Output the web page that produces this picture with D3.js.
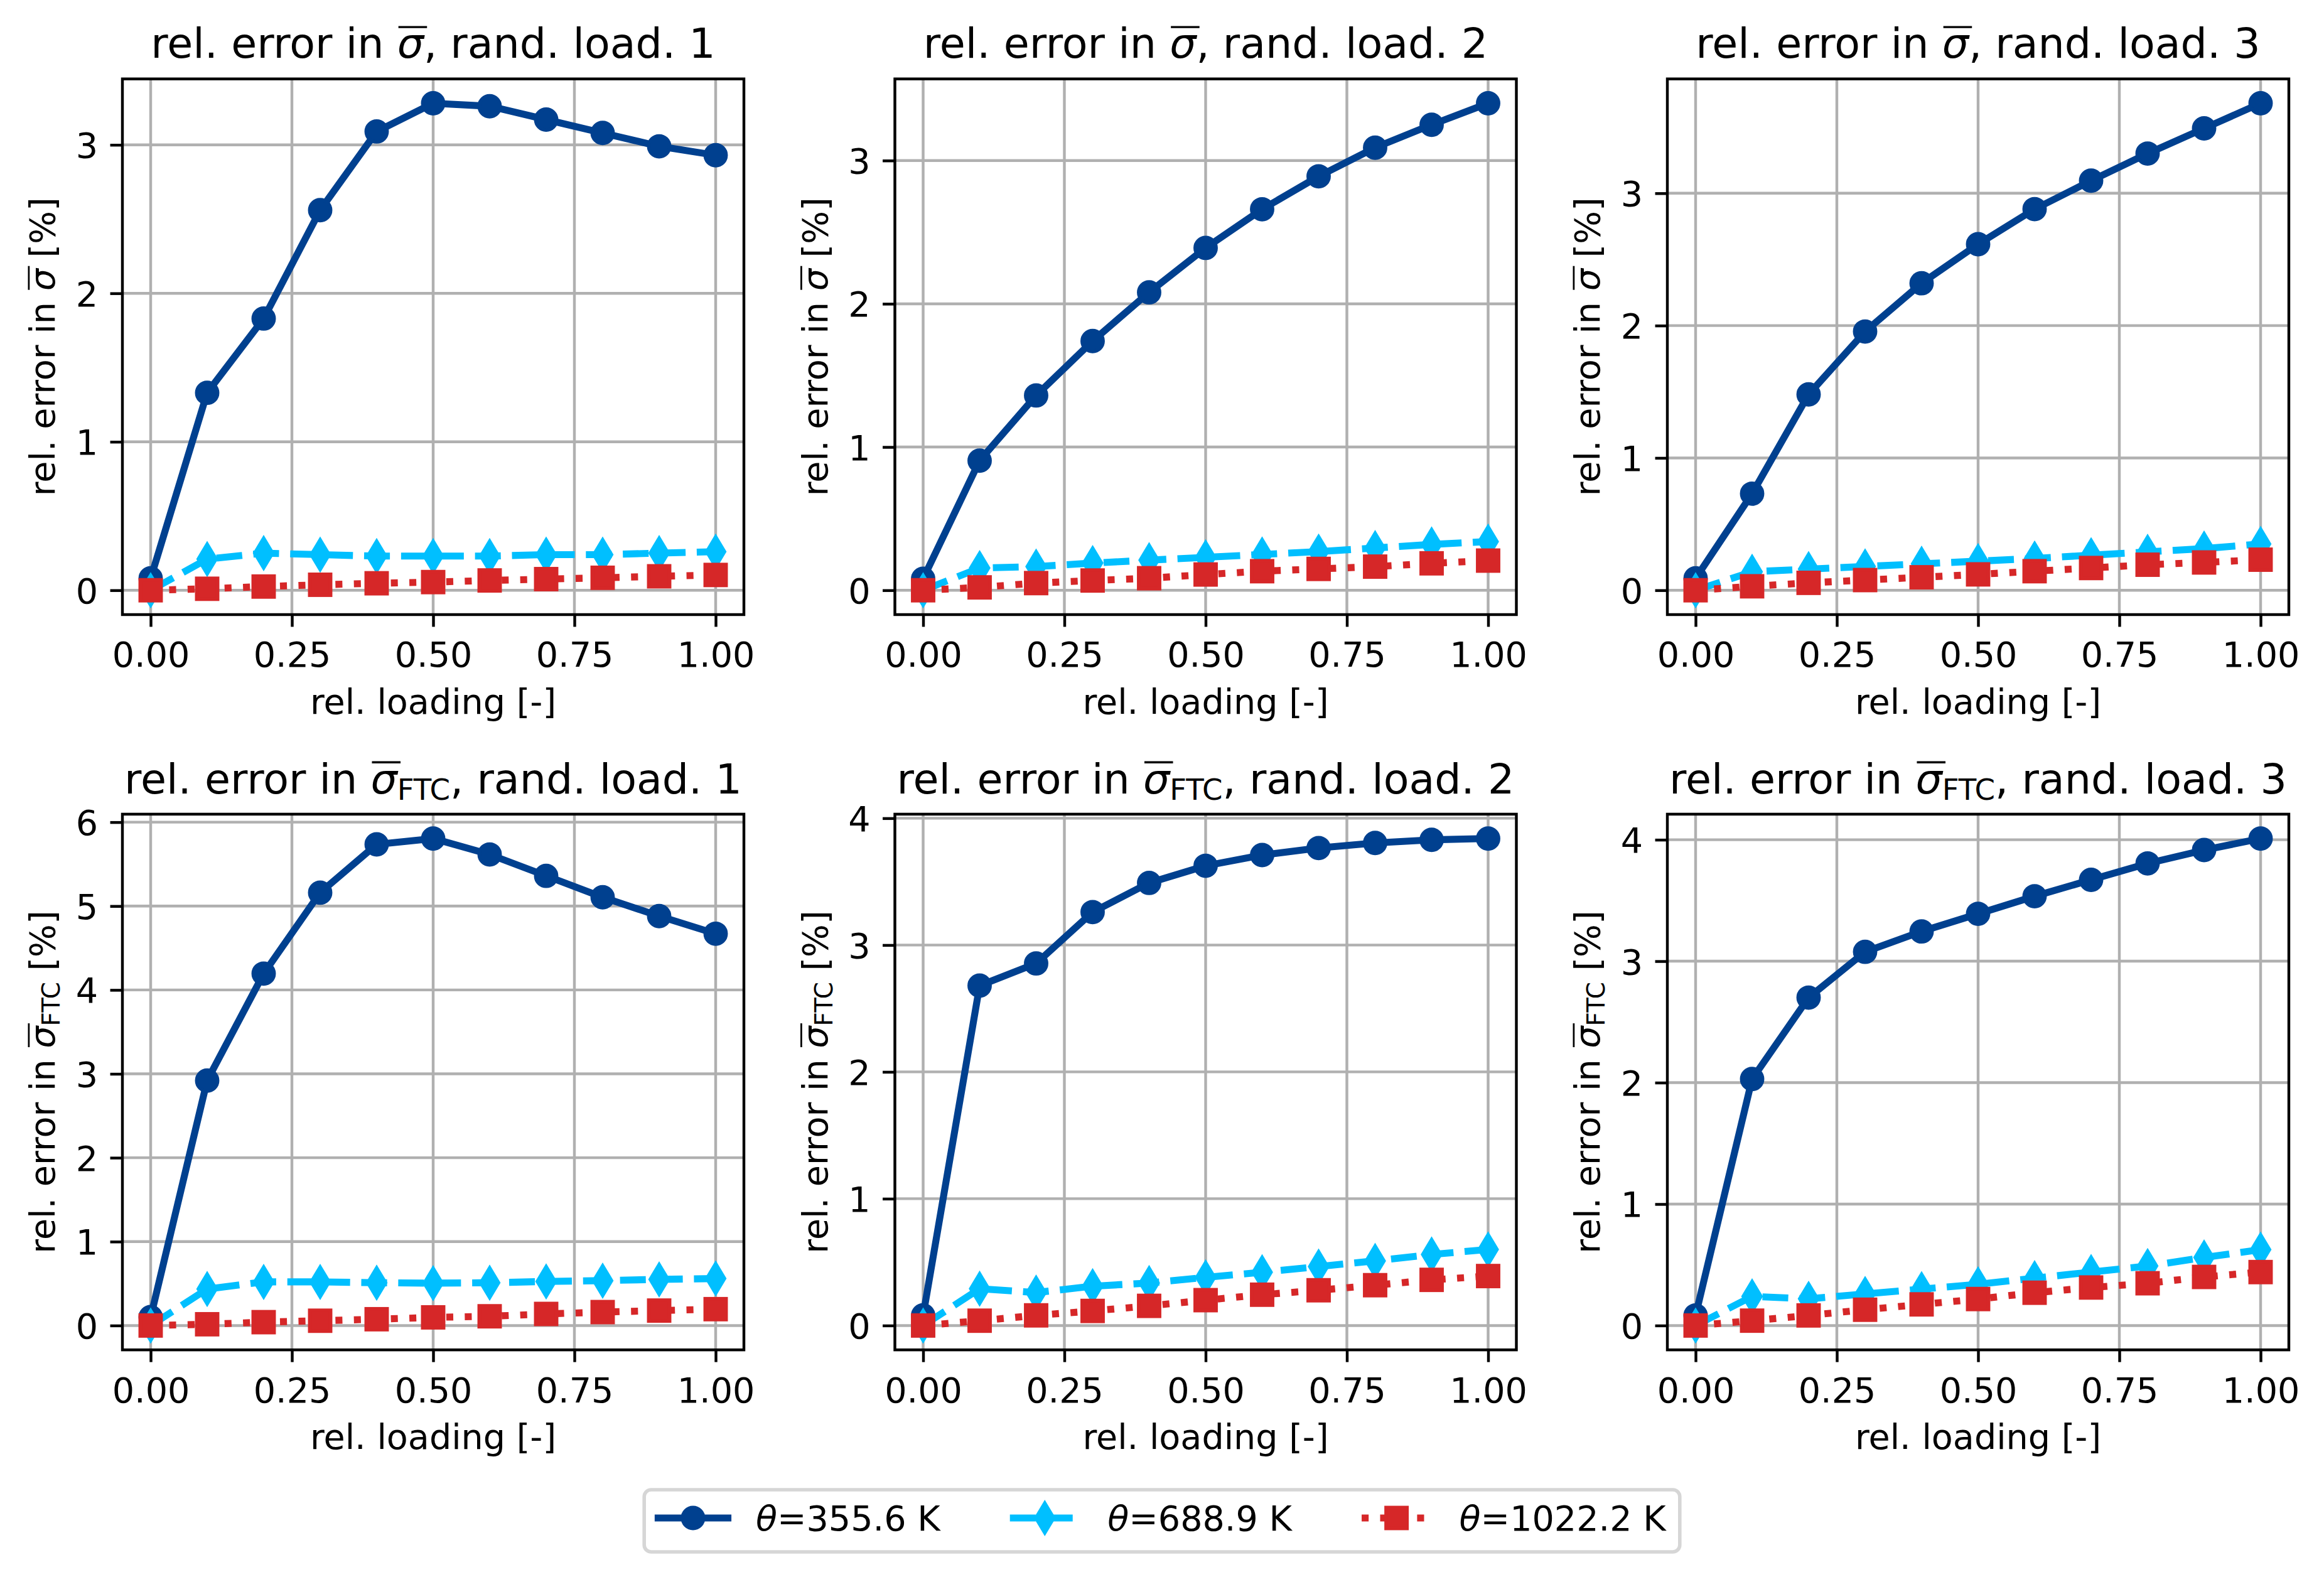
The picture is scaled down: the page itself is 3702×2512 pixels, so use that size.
<!DOCTYPE html>
<html><head><meta charset="utf-8">
<script src="https://cdn.jsdelivr.net/npm/d3@7"></script>
<style>body{margin:0;background:#fff} text{font-family:'DejaVu Sans';}</style>
</head><body><svg id="fig" width="3702" height="2512" xmlns="http://www.w3.org/2000/svg"></svg>
<script>
// ---------------- data ----------------
const loading = [0, 0.1, 0.2, 0.3, 0.4, 0.5, 0.6, 0.7, 0.8, 0.9, 1.0];
const xTicks = [0, 0.25, 0.5, 0.75, 1.0];
const temperatures = ["355.6", "688.9", "1022.2"];

// rel. error in sigma-bar [%]
const sig1_T356  = [0.08, 1.33, 1.83, 2.56, 3.09, 3.28, 3.26, 3.17, 3.08, 2.99, 2.93];
const sig1_T689  = [0.0, 0.21, 0.25, 0.24, 0.23, 0.23, 0.23, 0.24, 0.24, 0.25, 0.26];
const sig1_T1022 = [0.0, 0.01, 0.025, 0.037, 0.047, 0.055, 0.066, 0.075, 0.084, 0.094, 0.103];

const sig2_T356  = [0.08, 0.905, 1.36, 1.74, 2.08, 2.39, 2.66, 2.89, 3.09, 3.25, 3.40];
const sig2_T689  = [0.0, 0.155, 0.165, 0.19, 0.21, 0.23, 0.25, 0.27, 0.295, 0.32, 0.34];
const sig2_T1022 = [0.0, 0.02, 0.05, 0.068, 0.084, 0.11, 0.133, 0.149, 0.165, 0.188, 0.207];

const sig3_T356  = [0.09, 0.73, 1.48, 1.955, 2.32, 2.615, 2.88, 3.095, 3.30, 3.49, 3.68];
const sig3_T689  = [0.0, 0.14, 0.16, 0.18, 0.20, 0.22, 0.24, 0.265, 0.29, 0.315, 0.35];
const sig3_T1022 = [0.0, 0.03, 0.056, 0.077, 0.098, 0.12, 0.144, 0.168, 0.193, 0.21, 0.231];

// rel. error in sigma-bar_FTC [%]
const ftc1_T356  = [0.10, 2.92, 4.195, 5.16, 5.735, 5.805, 5.615, 5.36, 5.105, 4.88, 4.67];
const ftc1_T689  = [0.0, 0.435, 0.52, 0.52, 0.51, 0.505, 0.51, 0.525, 0.535, 0.55, 0.56];
const ftc1_T1022 = [0.0, 0.015, 0.04, 0.057, 0.075, 0.097, 0.11, 0.138, 0.16, 0.178, 0.195];

const ftc2_T356  = [0.08, 2.68, 2.855, 3.26, 3.49, 3.625, 3.71, 3.765, 3.805, 3.83, 3.84];
const ftc2_T689  = [0.0, 0.29, 0.26, 0.31, 0.335, 0.38, 0.42, 0.465, 0.51, 0.56, 0.60];
const ftc2_T1022 = [0.0, 0.038, 0.08, 0.115, 0.155, 0.20, 0.243, 0.278, 0.318, 0.36, 0.39];

const ftc3_T356  = [0.083, 2.03, 2.70, 3.077, 3.245, 3.39, 3.535, 3.67, 3.805, 3.915, 4.01];
const ftc3_T689  = [0.0, 0.24, 0.22, 0.26, 0.30, 0.34, 0.39, 0.44, 0.49, 0.56, 0.625];
const ftc3_T1022 = [0.0, 0.04, 0.083, 0.13, 0.174, 0.218, 0.27, 0.313, 0.348, 0.40, 0.44];

const yTicksRow1 = [0, 1, 2, 3];
const yTicks4 = [0, 1, 2, 3, 4, 5, 6];
const yTicks56 = [0, 1, 2, 3, 4];

const panels = [
  {sub: null,  load: 1, series: [sig1_T356, sig1_T689, sig1_T1022], yTicks: yTicksRow1},
  {sub: null,  load: 2, series: [sig2_T356, sig2_T689, sig2_T1022], yTicks: yTicksRow1},
  {sub: null,  load: 3, series: [sig3_T356, sig3_T689, sig3_T1022], yTicks: yTicksRow1},
  {sub: "FTC", load: 1, series: [ftc1_T356, ftc1_T689, ftc1_T1022], yTicks: yTicks4},
  {sub: "FTC", load: 2, series: [ftc2_T356, ftc2_T689, ftc2_T1022], yTicks: yTicks56},
  {sub: "FTC", load: 3, series: [ftc3_T356, ftc3_T689, ftc3_T1022], yTicks: yTicks56}
];

// ---------------- style ----------------
const PT = 400 / 72;
const colors = ["#00408f", "#00bfff", "#d62728"];
const dashes = [null, [3.7 * 2 * PT, 1.6 * 2 * PT], [1 * 2 * PT, 1.65 * 2 * PT]];
const markers = ["circle", "thin_diamond", "square"];
const LW = 2 * PT, MS = 6 * PT, MEW = 1 * PT;
const FS = 10 * PT, TFS = 12 * PT;

const colLeft = [195, 1425.5, 2656], axW = 990;
const rowTop = [125.7, 1296.9], axH = 853.3;

const svg = d3.select("#fig");
svg.append("rect").attr("width", 3702).attr("height", 2512).attr("fill", "#fff");

function drawMarker(g, type, cx, cy, color) {
  if (type === "circle") {
    g.append("circle").attr("cx", cx).attr("cy", cy).attr("r", MS / 2)
      .attr("fill", color).attr("stroke", color).attr("stroke-width", MEW);
  } else if (type === "square") {
    g.append("rect").attr("x", cx - MS / 2).attr("y", cy - MS / 2)
      .attr("width", MS).attr("height", MS)
      .attr("fill", color).attr("stroke", color).attr("stroke-width", MEW)
      .attr("stroke-linejoin", "miter");
  } else {
    const h = MS * Math.SQRT1_2, w = 0.6 * h;
    g.append("path").attr("d", `M${cx},${cy - h}L${cx + w},${cy}L${cx},${cy + h}L${cx - w},${cy}Z`)
      .attr("fill", color).attr("stroke", color).attr("stroke-width", MEW)
      .attr("stroke-linejoin", "miter").attr("stroke-miterlimit", 10);
  }
}

function mathText(parent, o) {
  const t = parent.append("text").attr("x", o.x).attr("y", o.y)
    .attr("font-size", o.fs).attr("text-anchor", "middle").attr("fill", "#000");
  t.append("tspan").text(o.pre);
  t.append("tspan").attr("font-style", "italic").text("σ");
  const sh = o.fs * 0.15;
  if (o.sub) {
    t.append("tspan").attr("font-size", o.fs * 0.7).attr("dy", sh).text(o.sub);
    t.append("tspan").attr("dy", -sh).text(o.post);
  } else {
    t.append("tspan").text(o.post);
  }
  const node = t.node(), i = o.pre.length;
  const s = node.getStartPositionOfChar(i), e = node.getEndPositionOfChar(i);
  const yb = o.y - o.fs * 0.74;
  parent.append("line").attr("x1", s.x + o.fs * 0.03).attr("x2", e.x + o.fs * 0.08)
    .attr("y1", yb).attr("y2", yb).attr("stroke", "#000").attr("stroke-width", o.fs * 0.05);
}

panels.forEach((p, idx) => {
  const r = Math.floor(idx / 3), c = idx % 3;
  const g = svg.append("g").attr("transform", `translate(${colLeft[c]},${rowTop[r]})`);
  const x = d3.scaleLinear().domain([-0.05, 1.05]).range([0, axW]);
  const all = p.series.flat();
  const lo = d3.min(all), hi = d3.max(all), m = (hi - lo) * 0.05;
  const y = d3.scaleLinear().domain([lo - m, hi + m]).range([axH, 0]);

  // grid
  g.append("g").selectAll("line").data(xTicks).join("line")
    .attr("x1", d => x(d)).attr("x2", d => x(d)).attr("y1", 0).attr("y2", axH)
    .attr("stroke", "#b0b0b0").attr("stroke-width", 0.8 * PT);
  g.append("g").selectAll("line").data(p.yTicks).join("line")
    .attr("y1", d => y(d)).attr("y2", d => y(d)).attr("x1", 0).attr("x2", axW)
    .attr("stroke", "#b0b0b0").attr("stroke-width", 0.8 * PT);

  // data
  const cid = "clip" + idx;
  g.append("clipPath").attr("id", cid).append("rect").attr("width", axW).attr("height", axH);
  const dg = g.append("g").attr("clip-path", `url(#${cid})`);
  const line = d3.line().x((d, i) => x(loading[i])).y(d => y(d));
  p.series.forEach((s, k) => {
    const path = dg.append("path").attr("d", line(s)).attr("fill", "none")
      .attr("stroke", colors[k]).attr("stroke-width", LW)
      .attr("stroke-linejoin", "round");
    if (dashes[k]) path.attr("stroke-dasharray", dashes[k].join(",")).attr("stroke-linecap", "butt");
    else path.attr("stroke-linecap", "square");
    s.forEach((v, i) => drawMarker(dg, markers[k], x(loading[i]), y(v), colors[k]));
  });

  // spines
  g.append("rect").attr("width", axW).attr("height", axH).attr("fill", "none")
    .attr("stroke", "#000").attr("stroke-width", 0.8 * PT);

  // axes
  const xa = g.append("g").attr("transform", `translate(0,${axH})`)
    .call(d3.axisBottom(x).tickValues(xTicks).tickFormat(d3.format(".2f"))
      .tickSize(3.5 * PT).tickPadding(3.5 * PT));
  xa.select(".domain").remove();
  xa.attr("font-family", "DejaVu Sans").attr("font-size", FS);
  xa.selectAll("line").attr("stroke", "#000").attr("stroke-width", 0.8 * PT);
  xa.selectAll("text").attr("dy", null).attr("y", 83.4).attr("fill", "#000");

  const ya = g.append("g")
    .call(d3.axisLeft(y).tickValues(p.yTicks).tickFormat(d3.format("d"))
      .tickSize(3.5 * PT).tickPadding(3.5 * PT));
  ya.select(".domain").remove();
  ya.attr("font-family", "DejaVu Sans").attr("font-size", FS);
  ya.selectAll("line").attr("stroke", "#000").attr("stroke-width", 0.8 * PT);
  ya.selectAll("text").attr("dy", "0.36em").attr("fill", "#000");

  // x label
  g.append("text").attr("x", axW / 2).attr("y", axH + 157.7).attr("text-anchor", "middle")
    .attr("font-size", FS).attr("fill", "#000").text("rel. loading [-]");

  // y label
  const yl = g.append("g").attr("transform", `translate(-108,${axH / 2}) rotate(-90)`);
  mathText(yl, {x: 0, y: 0, fs: FS, pre: "rel. error in ", sub: p.sub, post: " [%]"});

  // title
  mathText(g, {x: axW / 2, y: -33.3, fs: TFS, pre: "rel. error in ", sub: p.sub,
               post: ", rand. load. " + p.load});
});

// ---------------- legend ----------------
const lg = svg.append("g");
const handleLen = 2 * FS, pad = 0.8 * FS, colSp = 2 * FS, bpad = 0.4 * FS;
const texts = temperatures.map(T => {
  const t = lg.append("text").attr("font-size", FS).attr("fill", "#000");
  t.append("tspan").attr("font-style", "italic").text("θ");
  t.append("tspan").text("=" + T + " K");
  return t;
});
const widths = texts.map(t => t.node().getComputedTextLength());
const totalW = 2 * bpad + 3 * (handleLen + pad) + d3.sum(widths) + 2 * colSp;
const boxL = 3702 / 2 - totalW / 2, boxT = 2373, boxH = 99;
lg.insert("rect", ":first-child").attr("x", boxL).attr("y", boxT).attr("width", totalW).attr("height", boxH)
  .attr("rx", 0.2 * FS).attr("ry", 0.2 * FS).attr("fill", "#fff")
  .attr("stroke", "#d6d6d6").attr("stroke-width", 1 * PT);
let cx = boxL + bpad;
const ly = 2418;
temperatures.forEach((T, k) => {
  const hl = lg.append("line").attr("x1", cx).attr("x2", cx + handleLen).attr("y1", ly).attr("y2", ly)
    .attr("stroke", colors[k]).attr("stroke-width", LW);
  if (dashes[k]) hl.attr("stroke-dasharray", dashes[k].join(",")).attr("stroke-linecap", "butt");
  else hl.attr("stroke-linecap", "square");
  drawMarker(lg, markers[k], cx + handleLen / 2, ly, colors[k]);
  texts[k].attr("x", cx + handleLen + pad).attr("y", 2438).raise();
  cx += handleLen + pad + widths[k] + colSp;
});
</script></body></html>
